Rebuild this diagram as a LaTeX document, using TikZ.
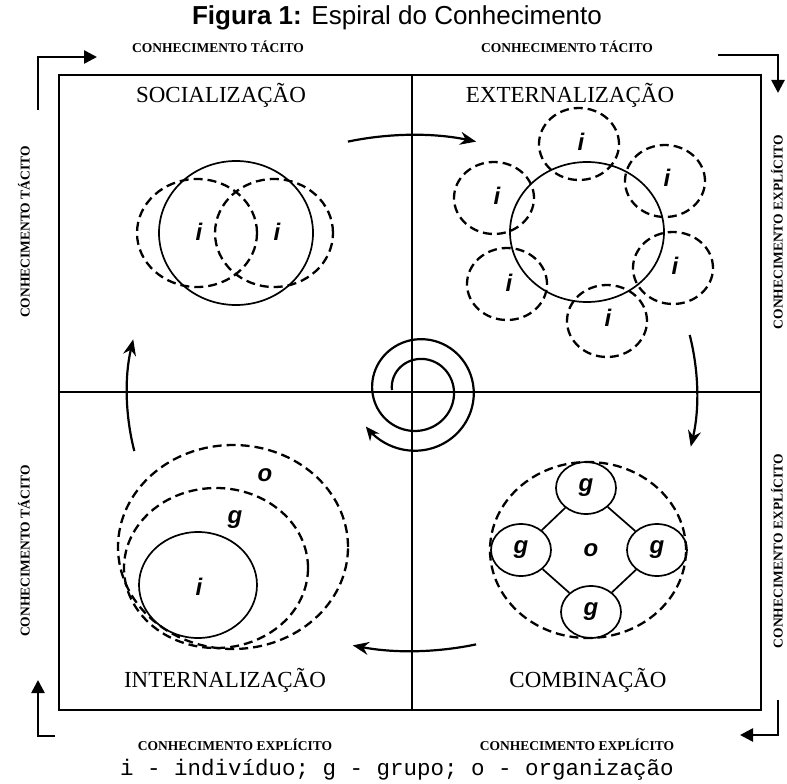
\documentclass[tikz,border=0pt]{standalone}
\usepackage{fontspec}
\setmainfont{Liberation Serif}
\setsansfont{Liberation Sans}
\setmonofont{Liberation Mono}
\usetikzlibrary{arrows.meta, positioning, shapes.geometric, calc}
\tikzset{
  qtitle/.style={font=\fontsize{23}{23}\selectfont, inner sep=0pt},
  kbtext/.style={font=\fontsize{13.5}{13.5}\selectfont\bfseries, inner sep=0pt},
  letra/.style={font=\fontsize{24}{24}\selectfont\sffamily\bfseries\itshape, inner sep=0pt},
  solido/.style={draw=black, line width=1.7pt},
  tracejado/.style={draw=black, line width=2.3pt, dash pattern=on 9pt off 5pt},
  fluxo/.style={line width=2.2pt, -{Stealth[length=16pt, width=13pt]}},
  moldura/.style={line width=2.6pt, -{Triangle[length=13pt, width=13pt]}},
}

\begin{document}
\begin{tikzpicture}[
    x=1pt, y=-1pt,
    gnode/.style={ellipse, solido, minimum width=60pt, minimum height=52pt, letra, inner sep=0pt},
  ]
  \useasboundingbox (0,0) rectangle (787,784);

  \node[font=\fontsize{26}{26}\selectfont\sffamily] (titulo) at (397,18) {\textbf{Figura 1:} Espiral do Conhecimento};

  \node[kbtext] (kt1) at (218,47) {CONHECIMENTO TÁCITO};
  \node[kbtext] (kt2) at (567,47) {CONHECIMENTO TÁCITO};
  \node[kbtext] (ke1) at (235,745) {CONHECIMENTO EXPLÍCITO};
  \node[kbtext] (ke2) at (577,745) {CONHECIMENTO EXPLÍCITO};
  \node[kbtext, rotate=90] (kt3) at (24,232) {CONHECIMENTO TÁCITO};
  \node[kbtext, rotate=90] (kt4) at (24,551) {CONHECIMENTO TÁCITO};
  \node[kbtext, rotate=90] (ke3) at (777,232) {CONHECIMENTO EXPLÍCITO};
  \node[kbtext, rotate=90] (ke4) at (777,551) {CONHECIMENTO EXPLÍCITO};

  \draw[moldura] (38,110) -- (38,57) -- (97,57);
  \draw[moldura] (718,55) -- (778,55) -- (778,93);
  \draw[moldura] (55,736) -- (38,736) -- (38,680);
  \draw[moldura] (778,700) -- (778,735) -- (740,735);

  \draw[line width=2.6pt] (59,75) rectangle (761,710);
  \draw[line width=1.8pt] (412,75) -- (412,710);
  \draw[line width=1.8pt] (59,392) -- (761,392);

  \node[qtitle] (soc) at (221,95) {SOCIALIZAÇÃO};
  \node[qtitle] (ext) at (570,95) {EXTERNALIZAÇÃO};
  \node[qtitle] (int) at (225,680) {INTERNALIZAÇÃO};
  \node[qtitle] (com) at (588,680) {COMBINAÇÃO};

  % socializacao
  \draw[solido] (236,233) ellipse [x radius=77pt, y radius=72pt];
  \draw[tracejado] (197,233) ellipse [x radius=60pt, y radius=54pt];
  \draw[tracejado] (274,233) ellipse [x radius=59pt, y radius=54pt];
  \node[letra] (si1) at (199,232) {i};
  \node[letra] (si2) at (277,232) {i};

  % externalizacao
  \draw[solido] (587,232) ellipse [x radius=77pt, y radius=70pt];
  \foreach \cx/\cy in {579/144, 665/181, 673/268, 607/321, 507/284, 494/198}
    \draw[tracejado] (\cx,\cy) ellipse [x radius=40pt, y radius=36pt];
  \foreach \lx/\ly [count=\k] in {581/142, 667/178, 675/266, 608/318, 509/283, 497/196}
    \node[letra] (ei\k) at (\lx,\ly) {i};

  % internalizacao
  \draw[tracejado] (233,547) ellipse [x radius=115pt, y radius=102pt];
  \draw[tracejado] (216,568) ellipse [x radius=92pt, y radius=80pt];
  \draw[solido] (198,585) ellipse [x radius=59pt, y radius=53pt];
  \node[letra] (io) at (265,475) {o};
  \node[letra] (ig) at (235,520) {g};
  \node[letra] (ii) at (199,587) {i};

  % combinacao
  \draw[tracejado] (588,550) ellipse [x radius=98pt, y radius=88pt];
  \node[gnode] (gt) at (586,488) {g};
  \node[gnode] (gl) at (521,550) {g};
  \node[gnode] (gr) at (657,550) {g};
  \node[gnode] (gb) at (591,612) {g};
  \node[letra] (co) at (591,550) {o};
  \draw[solido] (gt) -- (gl);
  \draw[solido] (gt) -- (gr);
  \draw[solido] (gb) -- (gl);
  \draw[solido] (gb) -- (gr);

  % espiral e setas
  \coordinate (centro) at (412,393);
  \draw[line width=2.2pt, -{Stealth[length=14pt, width=12pt]}, domain=0:685, samples=150, smooth, variable=\t]
    plot ({418+(26+0.055*\t)*cos(180-\t)}, {390-(26+0.055*\t)*sin(180-\t)});
  \draw[fluxo] ($(centro)+(103:285pt and 258pt)$) arc[start angle=103, end angle=77, x radius=285pt, y radius=258pt];
  \draw[fluxo] ($(centro)+(13:285pt and 258pt)$) arc[start angle=13, end angle=-12, x radius=285pt, y radius=258pt];
  \draw[fluxo] ($(centro)+(283:285pt and 258pt)$) arc[start angle=283, end angle=258, x radius=285pt, y radius=258pt];
  \draw[fluxo] ($(centro)+(193:285pt and 258pt)$) arc[start angle=193, end angle=168, x radius=285pt, y radius=258pt];

  \node[font=\fontsize{22.5}{22.5}\selectfont\ttfamily] (legenda) at (397,770) {i - indivíduo; g - grupo; o - organização};

\end{tikzpicture}
\end{document}
